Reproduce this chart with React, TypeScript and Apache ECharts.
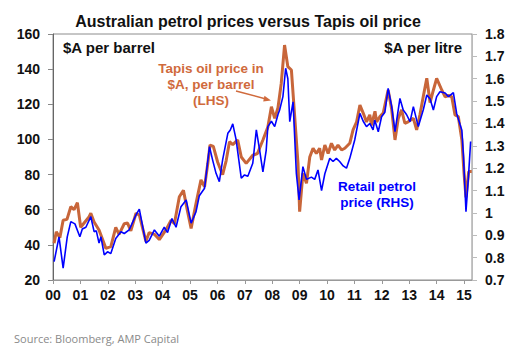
import React, { useEffect, useRef } from "react";
import * as echarts from "echarts";

// Tapis oil price, $A per barrel (LHS) — x in years since Jan 2000
const tapisYears = [0.04, 0.12, 0.25, 0.37, 0.51, 0.65, 0.77, 0.89, 1.01, 1.32, 1.38, 1.5, 1.68, 1.93, 2.11, 2.29, 2.41, 2.6, 2.72, 2.84, 3.03, 3.15, 3.39, 3.51, 3.7, 3.88, 4.12, 4.31, 4.43, 4.61, 4.76, 4.91, 5.04, 5.22, 5.4, 5.53, 5.65, 5.73, 5.85, 6.01, 6.19, 6.32, 6.44, 6.56, 6.74, 6.87, 7.05, 7.29, 7.46, 7.66, 7.84, 7.97, 8.09, 8.21, 8.33, 8.45, 8.57, 8.7, 8.82, 8.94, 9.0, 9.12, 9.25, 9.37, 9.49, 9.61, 9.73, 9.8, 9.92, 10.04, 10.16, 10.28, 10.4, 10.53, 10.65, 10.83, 10.95, 11.08, 11.2, 11.32, 11.44, 11.56, 11.62, 11.75, 11.81, 11.93, 12.05, 12.23, 12.36, 12.48, 12.6, 12.72, 12.84, 12.96, 13.15, 13.27, 13.39, 13.51, 13.64, 13.76, 13.88, 14.0, 14.19, 14.31, 14.43, 14.55, 14.67, 14.79, 14.92, 15.0, 15.07, 15.17, 15.28];
const tapisValues = [40.9, 47.5, 44, 54, 54.5, 61.7, 60, 64, 50, 56, 58, 53, 48.5, 38, 39, 50, 46, 52, 52.4, 48, 58, 57, 42, 47, 46, 43, 48.5, 54, 52, 67.4, 71, 59, 49.4, 63.6, 77, 73, 86.4, 96.8, 96, 87, 80, 88, 98.7, 97, 99.7, 90, 86.4, 91, 92, 99.7, 107, 118.6, 112, 118, 132, 153.7, 141.4, 139.5, 113, 86.4, 58.9, 80.7, 75, 90, 95, 92, 95, 88.3, 96.8, 92, 97.8, 94, 96.8, 94, 95, 97.8, 105.4, 110, 119.6, 115, 110, 114, 108, 116, 110, 113, 115, 128.1, 117, 99.7, 112, 116.8, 109.2, 110, 112, 105.4, 114, 124.3, 134.8, 121, 128, 134.8, 128, 124.3, 125, 124.3, 113.9, 113, 99.7, 80.7, 67, 81.7, 81.7];

// Retail petrol price, $A per litre (RHS)
const petrolYears = [0.04, 0.22, 0.37, 0.52, 0.65, 0.8, 0.98, 1.07, 1.2, 1.38, 1.5, 1.58, 1.68, 1.75, 1.87, 1.99, 2.11, 2.29, 2.48, 2.6, 2.78, 3.03, 3.15, 3.39, 3.51, 3.7, 3.88, 4.06, 4.18, 4.34, 4.49, 4.67, 4.86, 5.04, 5.22, 5.34, 5.53, 5.71, 5.83, 5.95, 6.07, 6.19, 6.38, 6.47, 6.56, 6.68, 6.87, 6.99, 7.11, 7.29, 7.42, 7.54, 7.66, 7.78, 7.84, 7.97, 8.09, 8.21, 8.27, 8.39, 8.49, 8.57, 8.64, 8.76, 8.88, 8.98, 9.12, 9.25, 9.43, 9.55, 9.67, 9.8, 9.92, 10.1, 10.22, 10.34, 10.46, 10.59, 10.71, 10.83, 11.01, 11.2, 11.32, 11.44, 11.56, 11.68, 11.74, 11.87, 11.99, 12.11, 12.23, 12.36, 12.48, 12.66, 12.78, 12.9, 13.03, 13.15, 13.33, 13.51, 13.64, 13.76, 13.88, 14.0, 14.12, 14.31, 14.43, 14.61, 14.73, 14.86, 14.92, 14.98, 15.07, 15.16, 15.24];
const petrolValues = [0.782, 0.893, 0.753, 0.893, 0.961, 0.951, 0.893, 0.928, 0.936, 0.983, 0.916, 0.92, 0.865, 0.893, 0.812, 0.826, 0.818, 0.886, 0.916, 0.908, 0.924, 0.991, 1.017, 0.865, 0.877, 0.924, 0.896, 0.936, 0.912, 0.975, 0.936, 1.028, 1.058, 0.954, 1.006, 1.077, 1.11, 1.296, 1.234, 1.177, 1.14, 1.237, 1.356, 1.371, 1.398, 1.329, 1.155, 1.17, 1.164, 1.222, 1.371, 1.281, 1.184, 1.28, 1.386, 1.41, 1.386, 1.44, 1.46, 1.52, 1.647, 1.6, 1.408, 1.497, 1.177, 1.058, 1.207, 1.15, 1.16, 1.15, 1.192, 1.1, 1.175, 1.244, 1.23, 1.244, 1.23, 1.21, 1.2, 1.244, 1.326, 1.445, 1.41, 1.386, 1.4, 1.371, 1.415, 1.363, 1.43, 1.45, 1.557, 1.475, 1.363, 1.512, 1.46, 1.44, 1.408, 1.475, 1.386, 1.46, 1.527, 1.51, 1.46, 1.52, 1.542, 1.536, 1.52, 1.538, 1.445, 1.393, 1.37, 1.251, 1.005, 1.16, 1.319];

const yearTicks = [0, 1, 2, 3, 4, 5, 6, 7, 8, 9, 10, 11, 12, 13, 14, 15];
const yearLabels = ["00", "01", "02", "03", "04", "05", "06", "07", "08", "09", "10", "11", "12", "13", "14", "15"];

const ORANGE = "#C8663A";
const BLUE = "#0000FF";
const FONT = "Liberation Sans, Arial, sans-serif";

export default function App() {
  const ref = useRef<HTMLDivElement>(null);
  useEffect(() => {
    if (!ref.current) return;
    const chart = echarts.init(ref.current, null, { renderer: "svg" });
    const tapisData = tapisYears.map((x, i) => [x, tapisValues[i]]);
    const petrolData = petrolYears.map((x, i) => [x, petrolValues[i]]);
    const labelStyle = { color: "#111", fontWeight: "bold" as const, fontSize: 14, fontFamily: FONT };
    chart.setOption({
      animation: false,
      backgroundColor: "#fff",
      grid: { left: 53, right: 50, top: 34, bottom: 75, show: true, borderColor: "#8c8c8c", borderWidth: 1, containLabel: false },
      xAxis: {
        type: "value",
        min: 0,
        max: 15.29,
        interval: 1,
        splitLine: { show: false },
        axisLine: { lineStyle: { color: "#999", width: 1 } },
        axisTick: { show: true, length: 4, lineStyle: { color: "#999" }, customValues: yearTicks },
        axisLabel: {
          ...labelStyle,
          margin: 8,
          customValues: yearTicks,
          formatter: (v: number) => {
            const i = yearTicks.indexOf(Math.round(v));
            return Math.abs(v - Math.round(v)) < 1e-6 && i >= 0 ? yearLabels[i] : "";
          },
        },
      },
      yAxis: [
        {
          type: "value",
          min: 20,
          max: 160,
          interval: 20,
          position: "left",
          splitLine: { show: false },
          axisLine: { show: true, lineStyle: { color: "#666" } },
          axisTick: { show: true, length: 5, lineStyle: { color: "#888" } },
          axisLabel: { ...labelStyle, margin: 13 },
        },
        {
          type: "value",
          min: 0.7,
          max: 1.8,
          interval: 0.1,
          position: "right",
          splitLine: { show: false },
          axisLine: { show: true, lineStyle: { color: "#bbb" } },
          axisTick: { show: true, length: 5, lineStyle: { color: "#bbb" } },
          axisLabel: {
            ...labelStyle,
            margin: 13,
            formatter: (v: number) => String(Math.round(v * 10) / 10),
          },
        },
      ],
      series: [
        {
          name: "Tapis oil price in $A, per barrel (LHS)",
          type: "line",
          yAxisIndex: 0,
          data: tapisData,
          showSymbol: false,
          lineStyle: { color: ORANGE, width: 3 },
          itemStyle: { color: ORANGE },
          z: 2,
        },
        {
          name: "Retail petrol price (RHS)",
          type: "line",
          yAxisIndex: 1,
          data: petrolData,
          showSymbol: false,
          lineStyle: { color: BLUE, width: 1.6 },
          itemStyle: { color: BLUE },
          z: 3,
        },
      ],
      graphic: [
        { type: "text", x: 248, y: 21, style: { text: "Australian petrol prices versus Tapis oil price", font: `bold 16px ${FONT}`, fill: "#111", textAlign: "center", textVerticalAlign: "middle" }, z: 10 },
        { type: "text", x: 63, y: 47, style: { text: "$A per barrel", font: `bold 15px ${FONT}`, fill: "#111", textVerticalAlign: "middle" }, z: 10 },
        { type: "text", x: 462, y: 47, style: { text: "$A per litre", font: `bold 15px ${FONT}`, fill: "#111", textAlign: "right", textVerticalAlign: "middle" }, z: 10 },
        { type: "text", x: 211, y: 68, style: { text: "Tapis oil price in", font: `bold 13.5px ${FONT}`, fill: "#D06A3C", textAlign: "center", textVerticalAlign: "middle" }, z: 10 },
        { type: "text", x: 211, y: 84, style: { text: "$A, per barrel", font: `bold 13.5px ${FONT}`, fill: "#D06A3C", textAlign: "center", textVerticalAlign: "middle" }, z: 10 },
        { type: "text", x: 211, y: 100, style: { text: "(LHS)", font: `bold 13.5px ${FONT}`, fill: "#D06A3C", textAlign: "center", textVerticalAlign: "middle" }, z: 10 },
        { type: "line", shape: { x1: 236, y1: 91, x2: 266, y2: 99 }, style: { stroke: "#D06A3C", lineWidth: 1.5 }, z: 10 },
        { type: "polygon", shape: { points: [[271, 100.5], [264.5, 95.8], [263.2, 101.5]] }, style: { fill: "#D06A3C" }, z: 10 },
        { type: "text", x: 377, y: 186, style: { text: "Retail petrol", font: `bold 13.5px ${FONT}`, fill: BLUE, textAlign: "center", textVerticalAlign: "middle" }, z: 10 },
        { type: "text", x: 377, y: 202, style: { text: "price (RHS)", font: `bold 13.5px ${FONT}`, fill: BLUE, textAlign: "center", textVerticalAlign: "middle" }, z: 10 },
        { type: "text", x: 14, y: 338, style: { text: "Source: Bloomberg, AMP Capital", font: `11px "Open Sans", sans-serif`, fill: "#8a8a8a", textVerticalAlign: "middle" }, z: 10 },
      ],
    });
    return () => chart.dispose();
  }, []);
  return <div ref={ref} style={{ position: "fixed", left: 0, top: 0, width: 522, height: 355 }} />;
}
